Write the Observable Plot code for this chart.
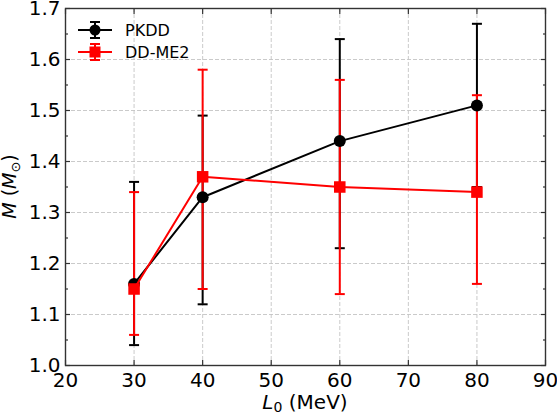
<!DOCTYPE html>
<html><head><meta charset="utf-8">
<script src="https://cdn.jsdelivr.net/npm/d3@7"></script>
<script src="https://cdn.jsdelivr.net/npm/@observablehq/plot@0.6"></script>
<style>
html,body{margin:0;padding:0;background:#fff;}
#wrap{width:557px;height:415px;font-family:"DejaVu Sans";}
svg{display:block;}
</style></head><body><div id="wrap"></div>
<script>
const L0 = [30, 40, 60, 80];
const pkddM  = [1.16, 1.33, 1.44, 1.51];
const pkddLo = [1.04, 1.12, 1.23, 1.35];
const pkddHi = [1.36, 1.49, 1.64, 1.67];
const me2M  = [1.15, 1.37, 1.35, 1.34];
const me2Lo = [1.06, 1.15, 1.14, 1.16];
const me2Hi = [1.34, 1.58, 1.56, 1.53];
const seriesNames = ["PKDD", "DD-ME2"];
const seriesColors = ["#000000", "#ff0000"];
const xTicks = [20, 30, 40, 50, 60, 70, 80, 90];
const yTicks = [1.0, 1.1, 1.2, 1.3, 1.4, 1.5, 1.6, 1.7];
const yMinor = [1.05, 1.15, 1.25, 1.35, 1.45, 1.55, 1.65];

const pk = L0.map((x, i) => ({x, m: pkddM[i], lo: pkddLo[i], hi: pkddHi[i]}));
const me = L0.map((x, i) => ({x, m: me2M[i], lo: me2Lo[i], hi: me2Hi[i]}));

const capSym = {draw(ctx, size) { const w = Math.sqrt(size / Math.PI); ctx.moveTo(-w, 0); ctx.lineTo(w, 0); }};

const gridStyle = {stroke: "#c4c4c4", strokeOpacity: 1, strokeDasharray: "4,2", strokeWidth: 0.9};
const tickStyle = {stroke: "#333", strokeWidth: 1.2, text: null, label: null};

function errMarks(d, color) {
  return [
    Plot.ruleX(d, {x: "x", y1: "lo", y2: "hi", stroke: color, strokeWidth: 2}),
    Plot.dot(d, {x: "x", y: "hi", symbol: capSym, r: 5, fill: "none", stroke: color, strokeWidth: 2}),
    Plot.dot(d, {x: "x", y: "lo", symbol: capSym, r: 5, fill: "none", stroke: color, strokeWidth: 2})
  ];
}

const chart = Plot.plot({
  width: 557, height: 415,
  marginLeft: 65, marginRight: 12, marginTop: 8, marginBottom: 50,
  style: {fontFamily: "DejaVu Sans", fontSize: "20px", background: "white", color: "black"},
  x: {domain: [20, 90]},
  y: {domain: [1.0, 1.7]},
  marks: [
    Plot.gridX(xTicks, gridStyle),
    Plot.gridY(yTicks, gridStyle),
    ...errMarks(pk, seriesColors[0]),
    ...errMarks(me, seriesColors[1]),
    Plot.line(pk, {x: "x", y: "m", stroke: seriesColors[0], strokeWidth: 2}),
    Plot.dot(pk, {x: "x", y: "m", r: 6, fill: seriesColors[0], symbol: "circle"}),
    Plot.line(me, {x: "x", y: "m", stroke: seriesColors[1], strokeWidth: 2}),
    Plot.dot(me, {x: "x", y: "m", r: 6.5, fill: seriesColors[1], symbol: "square"}),
    Plot.axisX(xTicks, {anchor: "bottom", tickSize: 0, tickPadding: 7, fontSize: 20, label: null}),
    Plot.axisY(yTicks, {anchor: "left", tickSize: 0, tickPadding: 5, fontSize: 20, label: null, tickFormat: d3.format(".1f")}),
    Plot.axisX(xTicks, {anchor: "bottom", tickSize: 5, dy: -5, ...tickStyle}),
    Plot.axisX(xTicks, {anchor: "top", tickSize: 5, dy: 5, ...tickStyle}),
    Plot.axisY(yTicks, {anchor: "left", tickSize: 5, dx: 5, ...tickStyle}),
    Plot.axisY(yTicks, {anchor: "right", tickSize: 5, dx: -5, ...tickStyle}),
    Plot.axisY(yMinor, {anchor: "left", tickSize: 3, dx: 3, ...tickStyle}),
    Plot.axisY(yMinor, {anchor: "right", tickSize: 3, dx: -3, ...tickStyle}),
    Plot.frame({stroke: "#333", strokeWidth: 1.4})
  ]
});
document.getElementById("wrap").appendChild(chart);

const svg = d3.select(chart);
const xr = chart.scale("x").range, yr = chart.scale("y").range;
const xc = (xr[0] + xr[1]) / 2, yc = (yr[0] + yr[1]) / 2;

// x label
const xl = svg.append("text").attr("x", xc).attr("y", 409).attr("text-anchor", "middle")
  .attr("font-size", 20).attr("font-family", "DejaVu Sans").attr("fill", "black");
xl.append("tspan").attr("font-style", "italic").text("L");
xl.append("tspan").attr("font-size", 14).attr("dy", 3).text("0");
xl.append("tspan").attr("dy", -3).text(" (MeV)");

// y label
const yl = svg.append("text").attr("transform", `translate(15.5,${yc}) rotate(-90)`).attr("text-anchor", "middle")
  .attr("font-size", 19).attr("font-family", "DejaVu Sans").attr("fill", "black");
yl.append("tspan").attr("font-style", "italic").text("M");
yl.append("tspan").text(" (");
yl.append("tspan").attr("font-style", "italic").text("M");
yl.append("tspan").attr("font-size", 13).attr("dy", 4).text("\u2299");
yl.append("tspan").attr("dy", -4).text(")");

// legend
const leg = svg.append("g").attr("font-family", "DejaVu Sans").attr("font-size", 16).attr("text-anchor", "start");
seriesNames.forEach((name, i) => {
  const cy = 30 + i * 22, cx = 95, c = seriesColors[i];
  const g = leg.append("g");
  g.append("line").attr("x1", 78).attr("x2", 112).attr("y1", cy).attr("y2", cy).attr("stroke", c).attr("stroke-width", 2);
  g.append("line").attr("x1", cx).attr("x2", cx).attr("y1", cy - 8).attr("y2", cy + 8).attr("stroke", c).attr("stroke-width", 2);
  [cy - 8, cy + 8].forEach(yy => g.append("line").attr("x1", cx - 5).attr("x2", cx + 5).attr("y1", yy).attr("y2", yy).attr("stroke", c).attr("stroke-width", 2));
  if (i === 0) g.append("circle").attr("cx", cx).attr("cy", cy).attr("r", 5.5).attr("fill", c);
  else g.append("rect").attr("x", cx - 5.5).attr("y", cy - 5.5).attr("width", 11).attr("height", 11).attr("fill", c);
  g.append("text").attr("x", 125).attr("y", cy).attr("dy", "0.36em").attr("fill", "black").attr("text-anchor", "start").text(name);
});
</script>
</body></html>
